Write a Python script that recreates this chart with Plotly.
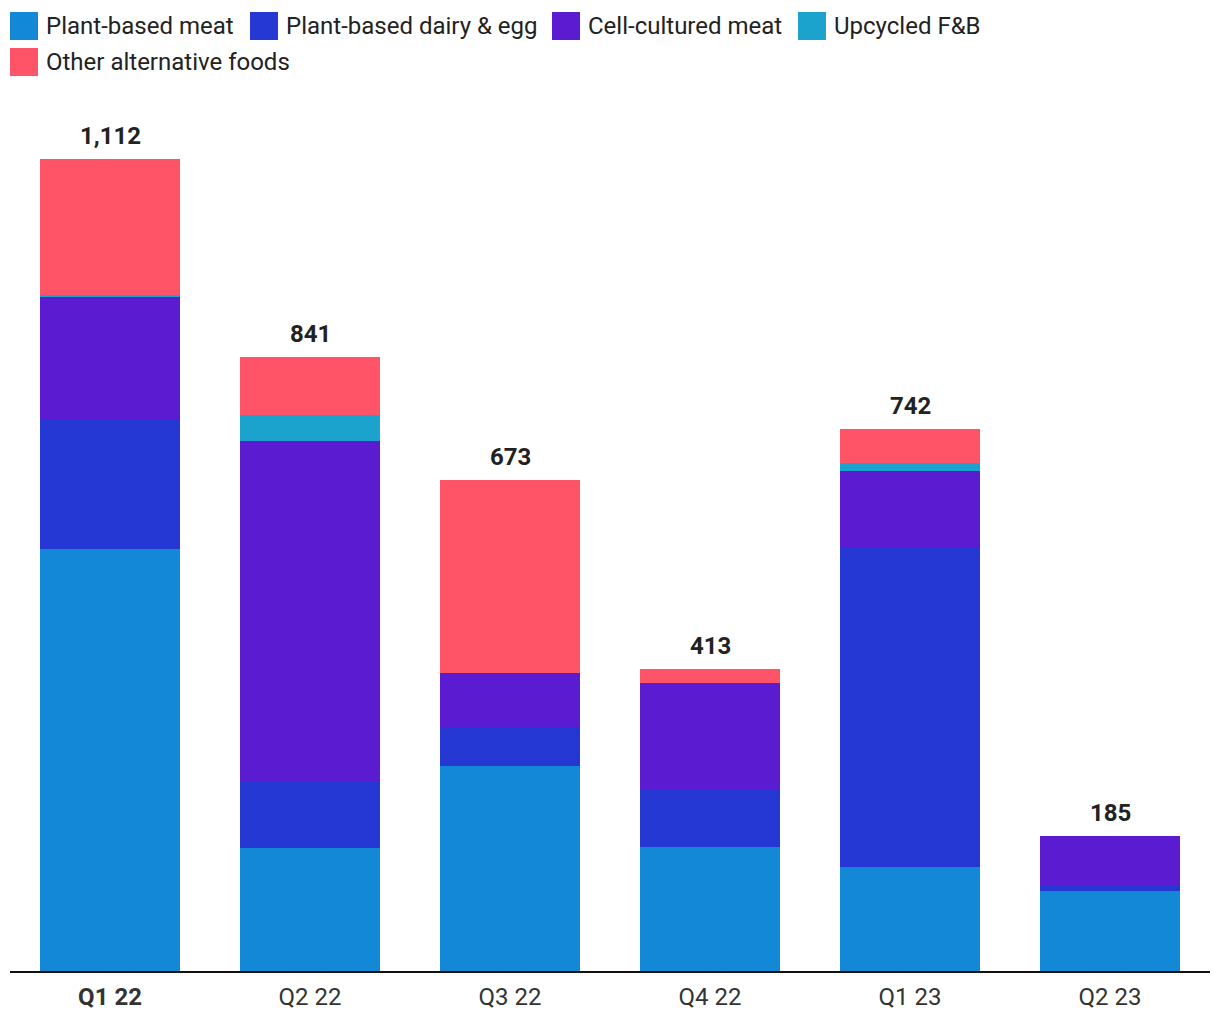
import plotly.graph_objects as go

quarters = ["Q1 22", "Q2 22", "Q3 22", "Q4 22", "Q1 23", "Q2 23"]
series_names = ["Plant-based meat", "Plant-based dairy & egg", "Cell-cultured meat",
                "Upcycled F&B", "Other alternative foods"]
plant_meat = [578, 168, 281, 170, 142, 109]
plant_dairy = [177, 92, 52, 78, 437, 8]
cell_cultured = [168, 466, 75, 146, 106, 68]
upcycled = [3, 35, 0, 0, 11, 0]
other_alt = [186, 80, 265, 19, 46, 0]
colors = ["#1388D6", "#2638D4", "#5A1BD1", "#1BA3CD", "#FF5468"]

series = [plant_meat, plant_dairy, cell_cultured, upcycled, other_alt]
totals = [sum(v) for v in zip(*series)]

OFF = 8  # page body margin
W, H = 1212, 1012
ML, MR, MT, MB = 2, 10, 92, 49
plot_w = W - ML - MR
plot_h = H - MT - MB
px_per_unit = (971 - 159) / 1112.0
ymax = plot_h / px_per_unit

fig = go.Figure()
for name, vals, col in zip(series_names, series, colors):
    fig.add_trace(go.Bar(x=quarters, y=vals, name=name, marker=dict(color=col, line=dict(width=0)),
                         showlegend=False, hoverinfo="x+y+name"))

annotations = []
for q, t in zip(quarters, totals):
    annotations.append(dict(x=q, y=t, xref="x", yref="y", text=f"<b>{t:,}</b>",
                            showarrow=False, yanchor="bottom", yshift=7,
                            font=dict(family="Roboto", size=24, color="#222222")))

# custom legend, positioned in page pixels
def px_x(px):
    return (px - OFF - ML) / plot_w

def px_y(py):
    return (OFF + H - MB - py) / plot_h

legend_pos = [(10, 26), (250, 26), (552, 26), (798, 26), (10, 62)]
shapes = []
for (lx, ly), name, col in zip(legend_pos, series_names, colors):
    shapes.append(dict(type="rect", xref="paper", yref="paper",
                       x0=px_x(lx), x1=px_x(lx + 28), y0=px_y(ly - 14), y1=px_y(ly + 14),
                       fillcolor=col, line=dict(width=0)))
    annotations.append(dict(x=px_x(lx + 34), y=px_y(ly), xref="paper", yref="paper",
                            text=name, showarrow=False, xanchor="left", yanchor="middle",
                            font=dict(family="Roboto", size=24, color="#222222")))

ticktext = [f"<b>{q}</b>" if i == 0 else q for i, q in enumerate(quarters)]

fig.update_layout(
    width=W, height=H, barmode="stack", bargap=0.3,
    margin=dict(l=ML, r=MR, t=MT, b=MB),
    paper_bgcolor="white", plot_bgcolor="white",
    font=dict(family="Roboto", color="#222222"),
    annotations=annotations, shapes=shapes,
    xaxis=dict(tickvals=quarters, ticktext=ticktext, showline=True, linecolor="#111111",
               linewidth=2, ticks="", tickfont=dict(family="Roboto", size=24, color="#333333"),
               ticklabelstandoff=3, showgrid=False, zeroline=False, fixedrange=True),
    yaxis=dict(range=[0, ymax], visible=False, showgrid=False, zeroline=False),
    showlegend=False,
)

fig.write_html("out.html")
